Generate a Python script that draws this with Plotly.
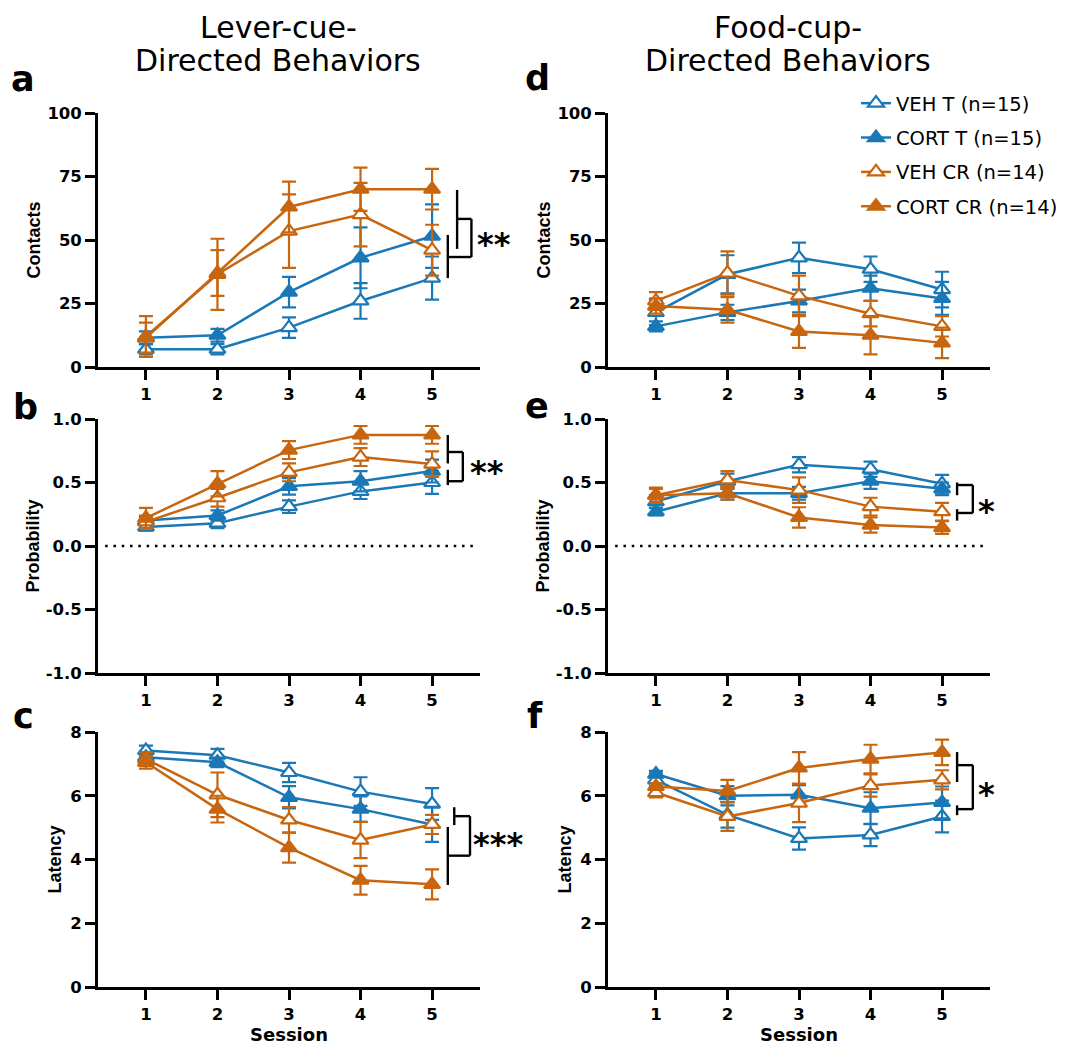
import plotly.graph_objects as go

# ---------------- data ----------------
sessions = [1, 2, 3, 4, 5]
group_names = ["VEH T (n=15)", "CORT T (n=15)", "VEH CR (n=14)", "CORT CR (n=14)"]

# Lever-cue: contacts
veh_t_lc = [7, 7, 15.5, 26, 35]
veh_t_lc_err = [2, 2, 4, 7, 8.5]
cort_t_lc = [11.5, 12.5, 29.5, 43, 51.5]
cort_t_lc_err = [2.5, 2.5, 6, 12, 12.5]
veh_cr_lc = [12, 36.5, 53.5, 60, 46]
veh_cr_lc_err = [8, 14, 14.5, 12.5, 10]
cort_cr_lc = [11.5, 37, 63, 70, 70]
cort_cr_lc_err = [6, 9, 10, 8.5, 8]

# Lever-cue: probability
veh_t_lp = [0.15, 0.18, 0.31, 0.43, 0.50]
veh_t_lp_err = [0.03, 0.04, 0.05, 0.06, 0.09]
cort_t_lp = [0.20, 0.24, 0.47, 0.51, 0.59]
cort_t_lp_err = [0.03, 0.04, 0.065, 0.08, 0.09]
veh_cr_lp = [0.19, 0.38, 0.58, 0.70, 0.645]
veh_cr_lp_err = [0.05, 0.07, 0.07, 0.07, 0.10]
cort_cr_lp = [0.22, 0.49, 0.755, 0.875, 0.875]
cort_cr_lp_err = [0.08, 0.10, 0.07, 0.07, 0.07]

# Lever-cue: latency
veh_t_ll = [7.42, 7.27, 6.73, 6.13, 5.74]
veh_t_ll_err = [0.15, 0.2, 0.3, 0.45, 0.5]
cort_t_ll = [7.21, 7.05, 5.95, 5.58, 5.10]
cort_t_ll_err = [0.15, 0.15, 0.35, 0.4, 0.55]
veh_cr_ll = [7.15, 6.03, 5.24, 4.61, 5.10]
veh_cr_ll_err = [0.2, 0.7, 0.4, 0.57, 0.3]
cort_cr_ll = [7.05, 5.58, 4.37, 3.35, 3.22]
cort_cr_ll_err = [0.2, 0.42, 0.47, 0.45, 0.47]

# Food-cup: contacts
veh_t_fc = [21.5, 36.5, 43, 38.5, 30.5]
veh_t_fc_err = [5, 7.5, 6, 5, 7]
cort_t_fc = [16, 21.5, 26, 31, 27]
cort_t_fc_err = [2, 3, 4.5, 5, 6.5]
veh_cr_fc = [26, 37, 28, 21, 16]
veh_cr_fc_err = [3.5, 8.5, 8, 5, 4]
cort_cr_fc = [24, 22.5, 14, 12.5, 9.5]
cort_cr_fc_err = [3, 5, 6.5, 7.5, 6]

# Food-cup: probability
veh_t_fp = [0.35, 0.51, 0.64, 0.605, 0.49]
veh_t_fp_err = [0.05, 0.06, 0.06, 0.06, 0.07]
cort_t_fp = [0.27, 0.415, 0.415, 0.51, 0.45]
cort_t_fp_err = [0.03, 0.05, 0.05, 0.06, 0.05]
veh_cr_fp = [0.40, 0.52, 0.44, 0.31, 0.27]
veh_cr_fp_err = [0.06, 0.07, 0.10, 0.07, 0.07]
cort_cr_fp = [0.40, 0.415, 0.225, 0.165, 0.145]
cort_cr_fp_err = [0.05, 0.05, 0.08, 0.06, 0.05]

# Food-cup: latency
veh_t_fl = [6.5, 5.4, 4.66, 4.77, 5.35]
veh_t_fl_err = [0.2, 0.4, 0.35, 0.35, 0.5]
cort_t_fl = [6.68, 6.0, 6.03, 5.61, 5.79]
cort_t_fl_err = [0.1, 0.3, 0.3, 0.5, 0.5]
veh_cr_fl = [6.1, 5.35, 5.77, 6.32, 6.5]
veh_cr_fl_err = [0.15, 0.45, 0.6, 0.35, 0.3]
cort_cr_fl = [6.29, 6.15, 6.87, 7.15, 7.36]
cort_cr_fl_err = [0.1, 0.35, 0.5, 0.45, 0.4]

y_titles = ["Contacts", "Probability", "Latency"]
col_titles = [["Lever-cue-", "Directed Behaviors"], ["Food-cup-", "Directed Behaviors"]]
panel_letters = ["a", "b", "c", "d", "e", "f"]

# ---------------- styling ----------------
BLUE = "#1a78b6"
ORANGE = "#c8650f"
FONT = "DejaVu Sans, sans-serif"
FONT_A = "Liberation Sans, Arial, sans-serif"
colors = [BLUE, BLUE, ORANGE, ORANGE]
filled = [False, True, False, True]

panels = [
    ("x", "y", [(veh_t_lc, veh_t_lc_err), (cort_t_lc, cort_t_lc_err), (veh_cr_lc, veh_cr_lc_err), (cort_cr_lc, cort_cr_lc_err)]),
    ("x3", "y3", [(veh_t_lp, veh_t_lp_err), (cort_t_lp, cort_t_lp_err), (veh_cr_lp, veh_cr_lp_err), (cort_cr_lp, cort_cr_lp_err)]),
    ("x5", "y5", [(veh_t_ll, veh_t_ll_err), (cort_t_ll, cort_t_ll_err), (veh_cr_ll, veh_cr_ll_err), (cort_cr_ll, cort_cr_ll_err)]),
    ("x2", "y2", [(veh_t_fc, veh_t_fc_err), (cort_t_fc, cort_t_fc_err), (veh_cr_fc, veh_cr_fc_err), (cort_cr_fc, cort_cr_fc_err)]),
    ("x4", "y4", [(veh_t_fp, veh_t_fp_err), (cort_t_fp, cort_t_fp_err), (veh_cr_fp, veh_cr_fp_err), (cort_cr_fp, cort_cr_fp_err)]),
    ("x6", "y6", [(veh_t_fl, veh_t_fl_err), (cort_t_fl, cort_t_fl_err), (veh_cr_fl, veh_cr_fl_err), (cort_cr_fl, cort_cr_fl_err)]),
]

fig = go.Figure()

for pi, (xa, ya, series) in enumerate(panels):
    for gi, (vals, errs) in enumerate(series):
        c = colors[gi]
        fig.add_trace(go.Scatter(
            x=sessions, y=vals, xaxis=xa, yaxis=ya,
            mode="lines+markers", name=group_names[gi],
            legendgroup=group_names[gi],
            showlegend=(xa == "x2"), legendrank=gi + 1,
            line=dict(color=c, width=2.5),
            marker=dict(symbol="triangle-up", size=14,
                        color=c if filled[gi] else "white",
                        line=dict(color=c, width=2.2)),
            error_y=dict(type="data", array=errs, visible=True,
                         color=c, thickness=2.2, width=7),
            cliponaxis=False,
        ))

# ---------------- layout geometry (page pixels -> paper) ----------------
W, H = 1067, 1049
OFF = 8  # page body margin


def px_x(px):
    return (px - OFF) / W


def px_y(py):
    return 1 - (py - OFF) / H


col_px = [(98, 480), (608, 990)]
row_px = [(113, 367), (419, 673), (732, 987)]
y_ranges = [[0, 100], [-1, 1], [0, 8]]
y_ticks = [[0, 25, 50, 75, 100], [-1, -0.5, 0, 0.5, 1], [0, 2, 4, 6, 8]]
y_ticktext = [["0", "25", "50", "75", "100"], ["-1.0", "-0.5", "0.0", "0.5", "1.0"], ["0", "2", "4", "6", "8"]]
y_standoff = [3, 2, 5]
x_range = [0.33, 5.67]

tickfont = dict(family=FONT, size=16.5, color="black", weight="bold")
ytitlefont = dict(family=FONT_A, size=18, color="black", weight="bold")
xtitlefont = dict(family=FONT, size=18, color="black", weight="bold")

axis_ids = [["", "2"], ["3", "4"], ["5", "6"]]
for r in range(3):
    for c in range(2):
        sid = axis_ids[r][c]
        x0, x1 = col_px[c]
        ytop, ybot = row_px[r]
        fig.layout["xaxis" + sid] = dict(
            domain=[px_x(x0), px_x(x1)], anchor="y" + sid, range=x_range, automargin=False,
            tickmode="array", tickvals=sessions, ticktext=[str(s) for s in sessions],
            showline=True, linecolor="black", linewidth=2.7,
            ticks="outside", ticklen=10, tickwidth=2.5, tickcolor="black",
            showgrid=False, zeroline=False, tickfont=tickfont,
            title=dict(text="Session" if r == 2 else "", font=xtitlefont, standoff=6),
        )
        fig.layout["yaxis" + sid] = dict(
            domain=[px_y(ybot), px_y(ytop)], anchor="x" + sid, range=y_ranges[r], automargin=False,
            tickmode="array", tickvals=y_ticks[r], ticktext=y_ticktext[r],
            showline=True, linecolor="black", linewidth=2.7,
            ticks="outside", ticklen=10, tickwidth=2.5, tickcolor="black",
            showgrid=False, zeroline=False, tickfont=tickfont,
            title=dict(text=y_titles[r], font=ytitlefont, standoff=y_standoff[r]),
        )

# dotted zero lines in probability panels
for sid in ["3", "4"]:
    fig.add_shape(type="line", xref="x" + sid, yref="y" + sid,
                  x0=0.43, x1=5.57, y0=0, y1=0,
                  line=dict(color="black", width=2.5, dash="2.5px,5.8px"))

# ---------------- significance brackets ----------------
# axis id, [(seg_x, seg_top, seg_bottom, connector_y), ...], right_x, star page-x, star y, stars
brackets = [
    ("", [(5.35, 69.7, 46.5, 58.3), (5.22, 52, 35, 43.3)], 5.55, 494, 50.6, "**"),
    ("3", [(5.22, 0.874, 0.65, 0.74), (5.22, 0.60, 0.48, 0.51)], 5.43, 487, 0.63, "**"),
    ("5", [(5.31, 5.64, 5.08, 5.36), (5.22, 5.02, 3.2, 4.12)], 5.53, 498, 4.67, "***"),
    ("4", [(5.21, 0.50, 0.40, 0.48), (5.21, 0.29, 0.20, 0.26)], 5.43, 986, 0.323, "*"),
    ("6", [(5.21, 7.37, 6.43, 6.96), (5.21, 5.70, 5.39, 5.58)], 5.43, 986, 6.24, "*"),
]
bl = dict(color="black", width=2.4)
for sid, segs, rx, spx, sy, st in brackets:
    xr, yr = "x" + sid, "y" + sid
    for (sxg, top, bot, cy) in segs:
        fig.add_shape(type="line", xref=xr, yref=yr, x0=sxg, x1=sxg, y0=bot, y1=top, line=bl)
        fig.add_shape(type="line", xref=xr, yref=yr, x0=sxg, x1=rx, y0=cy, y1=cy, line=bl)
    fig.add_shape(type="line", xref=xr, yref=yr, x0=rx, x1=rx,
                  y0=segs[1][3], y1=segs[0][3], line=bl)
    fig.add_annotation(x=px_x(spx), y=sy, xref="paper", yref=yr, text=st, showarrow=False,
                       xanchor="center", yanchor="middle",
                       font=dict(family=FONT, size=32, color="black", weight="bold"),
                       yshift=-6)

# ---------------- titles & letters ----------------
title_cx = [278, 788]
for ci in range(2):
    for li, py in enumerate([28, 61]):
        fig.add_annotation(x=px_x(title_cx[ci]), y=px_y(py), xref="paper", yref="paper",
                           text=col_titles[ci][li], showarrow=False,
                           xanchor="center", yanchor="middle",
                           font=dict(family=FONT, size=30, color="black"))
letter_pos = [(23, 79), (25, 407), (23, 716), (537, 78), (537, 406), (535, 716)]
for L, (px, py) in zip(panel_letters, letter_pos):
    fig.add_annotation(x=px_x(px), y=px_y(py), xref="paper", yref="paper", text=L,
                       showarrow=False, xanchor="center", yanchor="middle",
                       font=dict(family=FONT, size=35, color="black", weight="bold"))

fig.update_layout(
    width=W, height=H, margin=dict(l=0, r=0, t=0, b=0, autoexpand=False),
    paper_bgcolor="white", plot_bgcolor="white",
    showlegend=True,
    legend=dict(x=px_x(856), y=px_y(84), xanchor="left", yanchor="top",
                font=dict(family=FONT, size=19.5, color="black"),
                bgcolor="rgba(0,0,0,0)", itemwidth=30, tracegroupgap=6),
)

fig.write_html("out.html")
